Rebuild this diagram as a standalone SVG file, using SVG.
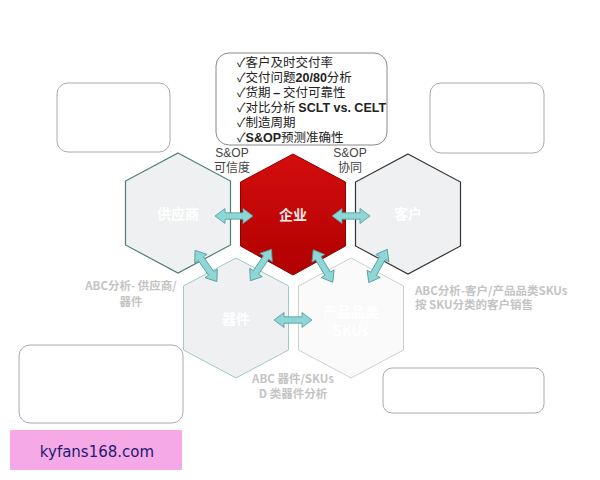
<svg xmlns="http://www.w3.org/2000/svg" width="600" height="480" viewBox="0 0 600 480">
<defs>
<linearGradient id="red" x1="0" y1="0" x2="0" y2="1">
<stop offset="0" stop-color="#d40d0d"/>
<stop offset="1" stop-color="#b00000"/>
</linearGradient>
<path id="darr" d="M-19,0 L-9,-7.5 L-9,-3.2 L9,-3.2 L9,-7.5 L19,0 L9,7.5 L9,3.2 L-9,3.2 L-9,7.5 Z"/>
</defs>
<style>
.box{fill:#fff;stroke:#8a8a8a;stroke-width:1}
.fbox{fill:#fff;stroke:#aaaaaa;stroke-width:1}
.lbl{font-family:"Noto Sans CJK SC","Liberation Sans",sans-serif;font-size:14px;font-weight:bold;fill:#fff;text-anchor:middle}
.side{font-family:"Noto Sans CJK SC","Liberation Sans",sans-serif;font-size:12px;fill:#444;text-anchor:middle}
.faint{font-family:"Noto Sans CJK SC","Liberation Sans",sans-serif;font-size:11.5px;fill:#c4c4c4;font-weight:bold}
.arr{fill:#8fd6d6;stroke:#4f9a9a;stroke-width:0.8}
.chk{font-family:"Noto Sans CJK SC","Liberation Sans",sans-serif;font-size:12.5px;fill:#222}
.b{font-weight:bold;font-family:"Liberation Sans",sans-serif}
</style>

<rect width="600" height="480" fill="#fff"/>

<g id="kpi-box">
<rect class="box" x="216" y="53" width="171" height="92" rx="13"/>
<text class="chk" x="237" y="67">✓客户及时交付率</text>
<text class="chk" x="237" y="82">✓交付问题<tspan class="b">20/80</tspan>分析</text>
<text class="chk" x="237" y="97">✓货期 <tspan class="b">–</tspan> 交付可靠性</text>
<text class="chk" x="237" y="112">✓对比分析 <tspan class="b">SCLT vs. CELT</tspan></text>
<text class="chk" x="237" y="127">✓制造周期</text>
<text class="chk" x="237" y="142">✓<tspan class="b">S&amp;OP</tspan>预测准确性</text>
</g>

<g id="box-tl"><rect class="fbox" x="57" y="83" width="113" height="69" rx="11"/></g>
<g id="box-tr"><rect class="fbox" x="430" y="83" width="114" height="70" rx="11"/></g>
<g id="box-bl"><rect class="fbox" x="19" y="345" width="164" height="78" rx="11"/></g>
<g id="box-br"><rect class="fbox" x="383" y="368" width="161" height="45" rx="9"/></g>

<g id="hex-supplier">
<polygon points="178,153 230.5,181 230.5,245 178,273 125.5,245 125.5,181" fill="#eef0f1" stroke="#4e7d78" stroke-width="1.2"/>
<text class="lbl" x="178" y="219">供应商</text>
</g>
<g id="hex-enterprise">
<polygon points="293,154 345.5,182 345.5,246 293,275 240.5,246 240.5,182" fill="url(#red)" stroke="#8e0000" stroke-width="1"/>
<text class="lbl" x="293" y="220" style="fill:#ffecec">企业</text>
</g>
<g id="hex-customer">
<polygon points="408,154 460.5,182 460.5,246 408,274 355.5,246 355.5,182" fill="#eef0f1" stroke="#333" stroke-width="1.2"/>
<text class="lbl" x="408" y="219">客户</text>
</g>
<g id="hex-component">
<polygon points="236,258 288.5,286 288.5,350 236,378 183.5,350 183.5,286" fill="#eef0f1" stroke="#9ccac6" stroke-width="1"/>
<text class="lbl" x="236" y="324">器件</text>
</g>
<g id="hex-product">
<polygon points="351,258 403.5,286 403.5,350 351,378 298.5,350 298.5,286" fill="#fafafa" stroke="#cfcfcf" stroke-width="1"/>
<text class="lbl" x="351" y="317">产品品类</text>
<text class="lbl" x="351" y="336">SKUs</text>
</g>

<g id="labels">
<text class="side" x="232" y="157" style="font-family:'Liberation Sans',sans-serif">S&amp;OP</text>
<text class="side" x="232" y="172">可信度</text>
<text class="side" x="350" y="157" style="font-family:'Liberation Sans',sans-serif">S&amp;OP</text>
<text class="side" x="350" y="172">协同</text>
<text class="faint" x="131" y="290" text-anchor="middle">ABC分析- 供应商/</text>
<text class="faint" x="131" y="306" text-anchor="middle">器件</text>
<text class="faint" x="415" y="295">ABC分析-客户/产品品类SKUs</text>
<text class="faint" x="415" y="309">按 SKU分类的客户销售</text>
<text class="faint" x="293" y="383" text-anchor="middle">ABC 器件/SKUs</text>
<text class="faint" x="293" y="398" text-anchor="middle">D 类器件分析</text>
</g>

<g id="connectors">
<use href="#darr" class="arr" transform="translate(234,216)"/>
<use href="#darr" class="arr" transform="translate(351,216)"/>
<use href="#darr" class="arr" transform="translate(293,320)"/>
<use href="#darr" class="arr" transform="translate(206,266) rotate(55)"/>
<use href="#darr" class="arr" transform="translate(261,265) rotate(124)"/>
<use href="#darr" class="arr" transform="translate(323,266) rotate(59)"/>
<use href="#darr" class="arr" transform="translate(378,266) rotate(119)"/>
</g>

<g id="watermark">
<rect x="10" y="430" width="172" height="40" fill="#f5a9e6"/>
<text x="97" y="457" font-family="DejaVu Sans, sans-serif" font-size="15" fill="#1c1c70" text-anchor="middle">kyfans168.com</text>
</g>
</svg>
